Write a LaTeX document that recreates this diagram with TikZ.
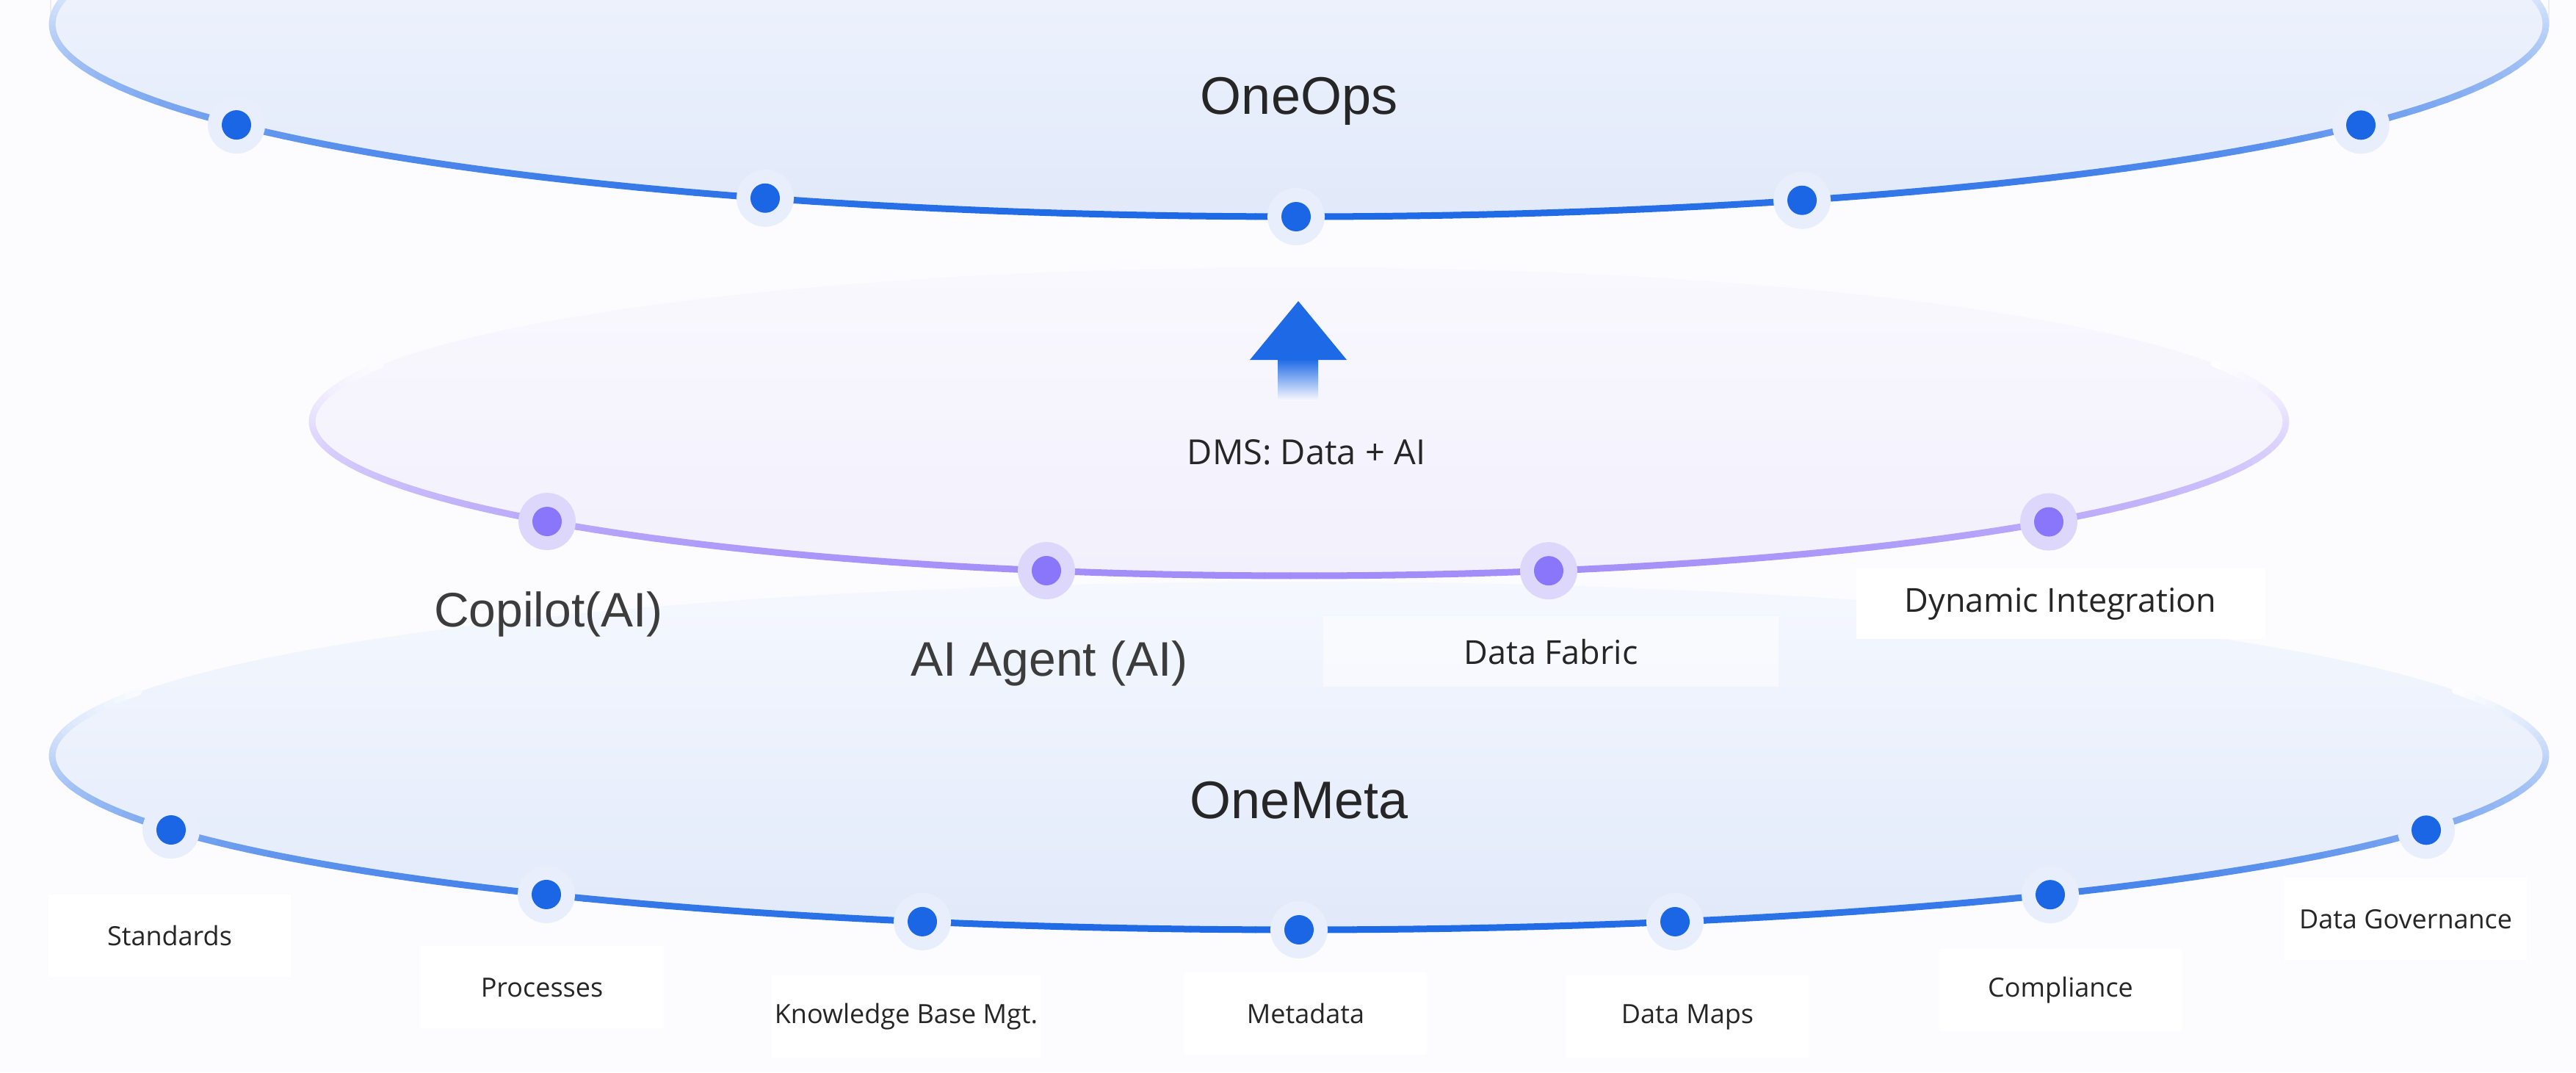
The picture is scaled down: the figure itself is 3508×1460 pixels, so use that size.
\documentclass[tikz,border=0pt]{standalone}
\usepackage{fontspec}
\setmainfont{Open Sans}
\newfontfamily\headfont{Liberation Sans}
\usepackage{tikz}
\usetikzlibrary{positioning}

\definecolor{bgcol}{HTML}{FCFCFE}
\definecolor{ringblue}{HTML}{1E69E6}
\definecolor{dotblue}{HTML}{1A66E4}
\definecolor{haloblue}{HTML}{E8EEFC}
\definecolor{ringpurple}{HTML}{A28CF9}
\definecolor{dotpurple}{HTML}{8A76FA}
\definecolor{halopurple}{HTML}{DDD7FC}
\definecolor{blueA}{HTML}{F5F8FE}
\definecolor{blueB}{HTML}{E1E9FA}
\definecolor{purpleA}{HTML}{F9F8FE}
\definecolor{purpleB}{HTML}{F2F0FC}
\definecolor{arrowblue}{HTML}{1E6AE6}
\definecolor{textdark}{HTML}{262626}

% ring stroke that fades out towards the back: cx, cy, a, b, colour
\newcommand{\fadering}[5]{%
	\foreach \t in {-22,-20.5,...,201} {
		\pgfmathsetmacro\f{max(0,min(100,28+72*sin(\t)))}
		\draw[line width=9pt,line cap=round,draw=#5!\f!white]
			({#1+#3*cos(\t)},{#2+#4*sin(\t)}) -- ({#1+#3*cos(\t+1.5)},{#2+#4*sin(\t+1.5)});
	}}

\begin{document}
\begin{tikzpicture}[x=1pt,y=-1pt,
		bdot/.style={circle,fill=dotblue,minimum size=40pt,inner sep=0pt,
			preaction={draw=haloblue,fill=haloblue,line width=38pt}},
		pdot/.style={circle,fill=dotpurple,minimum size=40pt,inner sep=0pt,
			preaction={draw=halopurple,fill=halopurple,line width=38pt}},
		head/.style={anchor=base,text=textdark,font=\headfont\fontsize{72pt}{80pt}\selectfont},
		ailbl/.style={anchor=base,text=textdark!90,font=\headfont\fontsize{66pt}{74pt}\selectfont},
		midlbl/.style={anchor=base,text=textdark,fill=white,minimum height=96pt,
			font=\fontsize{45pt}{52pt}\selectfont},
		botlbl/.style={anchor=base,text=textdark,fill=white,minimum width=330pt,minimum height=112pt,
			font=\fontsize{36pt}{42pt}\selectfont}]
	\useasboundingbox (0,0) rectangle (3508,1460);
	\clip (0,0) rectangle (3508,1460);
	\fill[bgcol] (0,0) rectangle (3508,1460);
	
	% faint marks at the top edge
	\foreach \x in {69,577,794,1297,1517,2024,2241,2747,2964,3471}
		\draw[black!7,line width=2pt] (\x,0) -- (\x,36);
	
	% OneOps ring
	\shade[top color=blueA,bottom color=blueB] (1769,33) ellipse [x radius=1698pt,y radius=262pt];
	\fadering{1769}{33}{1698}{262}{ringblue}
	\foreach \x [count=\i] in {322,1042,1765,2454,3215} {
		\pgfmathsetmacro\t{acos((\x-1769)/1698)}
		\node[bdot] (ops\i) at (\x,{33+262*sin(\t)}) {};
	}
	\node[head] (oneops) at (1769,155) {OneOps};
	
	% OneMeta ring
	\shade[top color=blueA,bottom color=blueB] (1769,1029) ellipse [x radius=1698pt,y radius=237pt];
	\fadering{1769}{1029}{1698}{237}{ringblue}
	\foreach \x [count=\i] in {233,744,1256,1769,2281,2792,3304} {
		\pgfmathsetmacro\t{acos((\x-1769)/1698)}
		\node[bdot] (meta\i) at (\x,{1029+237*sin(\t)}) {};
	}
	\node[head] (onemeta) at (1769,1114) {OneMeta};
	
	% DMS ring
	\shade[top color=purpleA,bottom color=purpleB] (1769,574) ellipse [x radius=1344pt,y radius=210pt];
	\fadering{1769}{574}{1344}{210}{ringpurple}
	\foreach \x [count=\i] in {745,1425,2109,2790} {
		\pgfmathsetmacro\t{acos((\x-1769)/1344)}
		\node[pdot] (dms\i) at (\x,{574+210*sin(\t)}) {};
	}
	\node[anchor=base,text=textdark,font=\fontsize{47pt}{54pt}\selectfont] (dms) at (1779,632) {DMS: Data + AI};
	
	% arrow up
	\coordinate (tip) at (1768,410);
	\fill[arrowblue] (tip) -- (1834,490) -- (1702,490) -- cycle;
	\shade[top color=arrowblue,bottom color=purpleA] (1740,489) rectangle (1795,545);
	
	% Labels
	\node[ailbl] (copilot) at (747,853) {Copilot(AI)};
	\node[ailbl] (agent) at (1429,920) {AI Agent (AI)};
	\node[midlbl,minimum width=620pt,fill opacity=0.5,text opacity=1] (fabric) at (2112,904) {Data Fabric};
	\node[midlbl,minimum width=557pt] (dynint) at (2806,833) {Dynamic Integration};
	
	\node[botlbl] (std) at (231,1287) {Standards};
	\node[botlbl] (proc) at (738,1357) {Processes};
	\node[botlbl] (kb) at (1234,1393) {Knowledge Base Mgt.};
	\node[botlbl] (meta) at (1778,1393) {Metadata};
	\node[botlbl] (maps) at (2298,1393) {Data Maps};
	\node[botlbl] (comp) at (2806,1357) {Compliance};
	\node[botlbl] (gov) at (3276,1264) {Data Governance};
\end{tikzpicture}
\end{document}
